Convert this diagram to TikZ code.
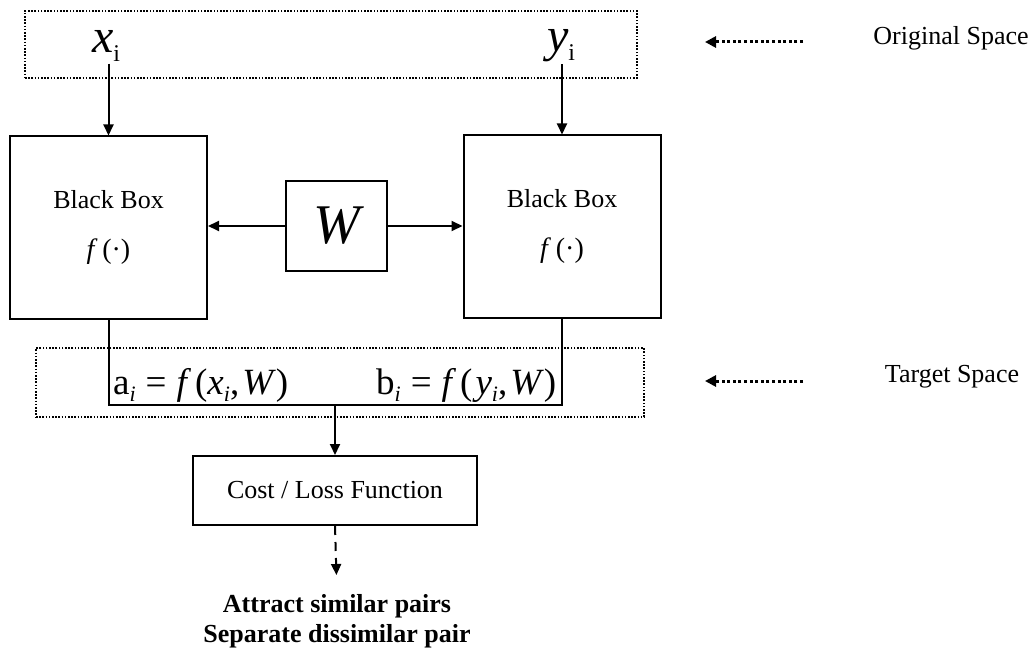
\documentclass[tikz,border=0pt]{standalone}
\usepackage{fontspec}
\setmainfont{Liberation Serif}
\usetikzlibrary{arrows.meta,positioning}

% index set low and small: raise, size, text
\newcommand{\lowidx}[3]{\raisebox{#1}{\fontsize{#2}{#2}\selectfont #3}}

\tikzset{
  spacebox/.style={draw, line width=1.6pt, dash pattern=on 1.6pt off 1.6pt, inner sep=0pt},
  bbox/.style={draw, line width=2pt, minimum width=197pt, minimum height=182pt, align=center,
    font=\fontsize{26}{26}\selectfont},
  wbox/.style={draw, line width=2pt, minimum width=101pt, minimum height=90pt, inner sep=0pt,
    font=\fontsize{56}{56}\selectfont\itshape},
  costbox/.style={draw, line width=2pt, minimum width=284pt, minimum height=69pt,
    font=\fontsize{26}{26}\selectfont},
  flow/.style={line width=2pt, -{Triangle[length=11pt,width=10pt]}},
  hint/.style={line width=3pt, dash pattern=on 3pt off 2.6pt, -{Triangle[length=11pt,width=11pt]}},
  outcome/.style={line width=2pt, dash pattern=on 9pt off 7pt, -{Triangle[length=11pt,width=10pt]}},
  spacelabel/.style={font=\fontsize{26}{26}\selectfont},
  mathlabel/.style={font=\fontsize{37}{37}\selectfont, inner sep=0pt, anchor=base west}
}

\begin{document}
\begin{tikzpicture}[x=1pt,y=-1pt]
  \useasboundingbox (0,0) rectangle (1034,650);

  % original space
  \node[spacebox, minimum width=612pt, minimum height=67pt] (origspace) at (331,44.5) {};
  \node[font=\fontsize{48}{48}\selectfont, inner sep=2pt] (xi) at (106,46) {\textit{x}\lowidx{-9pt}{24}{i}};
  \node[font=\fontsize{48}{48}\selectfont, inner sep=2pt] (yi) at (561,46) {\textit{y}\lowidx{-9pt}{24}{i}};

  % the two black boxes and W
  \node[bbox] (leftbb) at (108.5,227.5) {Black Box\\[24pt]{\fontsize{28}{28}\selectfont\textit{f}\,(·)}};
  \node[bbox] (rightbb) at (562,226.5) {Black Box\\[24pt]{\fontsize{28}{28}\selectfont\textit{f}\,(·)}};
  \node[wbox] (weights) at (336.5,226) {W};

  \draw[flow] (leftbb.north |- xi.south) -- (leftbb.north);
  \draw[flow] (rightbb.north |- yi.south) -- (rightbb.north);
  \draw[flow] (weights.west) -- (leftbb.east |- weights.west);
  \draw[flow] (weights.east) -- (rightbb.west |- weights.east);

  % target space
  \node[spacebox, minimum width=608pt, minimum height=69pt] (targetspace) at (340,382.5) {};
  \node[mathlabel] (ai) at (113,394)
    {a\lowidx{-7pt}{22}{\textit{i}}\hspace{10pt}=\hspace{10pt}\textit{f}\hspace{4pt}(\textit{x}\lowidx{-7pt}{22}{\textit{i}},\hspace{3pt}\textit{W})};
  \node[mathlabel] (bi) at (376,394)
    {b\lowidx{-7pt}{22}{\textit{i}}\hspace{10pt}=\hspace{10pt}\textit{f}\hspace{4pt}(\hspace{3pt}\textit{y}\lowidx{-7pt}{22}{\textit{i}},\hspace{3pt}\textit{W})};
  \coordinate (join) at (335,405);
  \draw[line width=2pt] (leftbb.south) |- (join) -| (rightbb.south);

  % loss
  \node[costbox] (cost) at (335,490.5) {Cost / Loss Function};
  \draw[flow] (join) -- (cost.north);
  \node[font=\fontsize{26}{30}\selectfont\bfseries, align=center, inner sep=0pt] (goal) at (337,621)
    {Attract similar pairs\\Separate dissimilar pair};
  \draw[outcome, shorten >=19pt] (cost.south) -- (goal.north);

  % space hints on the right
  \node[spacelabel] (origlabel) at (951,38) {Original Space};
  \node[spacelabel] (targetlabel) at (952,377) {Target Space};
  \coordinate (origtail) at (803,42);
  \coordinate (targettail) at (803,381);
  \draw[hint] (origtail) -- ++(-98,0);
  \draw[hint] (targettail) -- ++(-98,0);
\end{tikzpicture}
\end{document}
